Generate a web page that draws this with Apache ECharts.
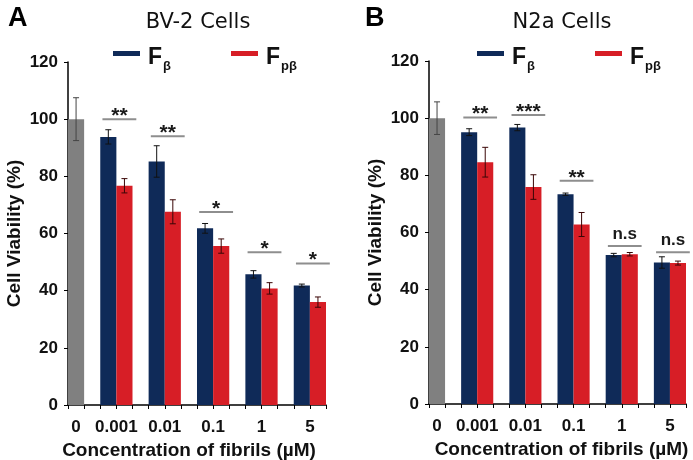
<!DOCTYPE html>
<html><head><meta charset="utf-8">
<script src="https://cdn.jsdelivr.net/npm/echarts@6/dist/echarts.min.js"></script>
<style>html,body{margin:0;padding:0;background:#fff}#c{width:693px;height:460px}</style>
</head><body><div id="c"></div>
<script>
// ---- data ----
const categories = ['0', '0.001', '0.01', '0.1', '1', '5'];
const seriesNames = ['Fβ', 'Fpβ'];
const yMax = 120, yStep = 20;

const bv2Control = 100, bv2ControlErr = 7.5;
const bv2Fb = [93.8, 85.2, 61.8, 45.7, 41.8];
const bv2FbErr = [2.5, 5.5, 1.7, 1.3, 0.5];
const bv2Fpb = [76.7, 67.6, 55.6, 40.8, 36.0];
const bv2FpbErr = [2.5, 4.2, 2.5, 2.0, 1.8];
const bv2Sig = ['**', '**', '*', '*', '*'];
const bv2SigY = [100, 94, 67.5, 53.4, 49.5];

const n2aControl = 100, n2aControlErr = 5.7;
const n2aFb = [95.1, 96.7, 73.4, 52.1, 49.5];
const n2aFbErr = [1.2, 1.1, 0.4, 0.6, 2.0];
const n2aFpb = [84.6, 75.9, 62.8, 52.4, 49.3];
const n2aFpbErr = [5.2, 4.3, 4.2, 0.6, 0.7];
const n2aSig = ['**', '***', '**', 'n.s', 'n.s'];
const n2aSigY = [100.2, 101.1, 78.1, 55.3, 53.1];

// ---- styling ----
const FONT = '"Liberation Sans", Arial, sans-serif';
const C_GRAY = '#808080', C_BLUE = '#0f2a58', C_RED = '#d71e26';
const ERR_COLORS = ['#444444', '#111111', '#3a0606'];

// slot layout: control slot, gap, then [blue, red, gap] per concentration
const nGroups = categories.length - 1;
const nSlots = 2 + 3 * nGroups - 1;
const blueSlot = i => 2 + 3 * i;
const redSlot = i => 3 + 3 * i;
const slotNames = Array.from({length: nSlots}, (_, i) => 's' + i);
// half-slot label axis (boundaryGap false)
const labelSlots = Array(2 * nSlots + 1).fill('');
labelSlots[1] = categories[0];
for (let i = 0; i < nGroups; i++) labelSlots[2 * redSlot(i)] = categories[i + 1];

function renderErr(params, api) {
  const x = api.value(0), lo = api.value(1), hi = api.value(2);
  const pHi = api.coord([x, hi]), pLo = api.coord([x, lo]);
  const cw = 3;
  const st = {stroke: ERR_COLORS[api.value(3)], lineWidth: 1};
  return {type: 'group', children: [
    {type: 'line', shape: {x1: pHi[0], y1: pHi[1], x2: pLo[0], y2: pLo[1]}, style: st},
    {type: 'line', shape: {x1: pHi[0] - cw, y1: pHi[1], x2: pHi[0] + cw, y2: pHi[1]}, style: st},
    {type: 'line', shape: {x1: pLo[0] - cw, y1: pLo[1], x2: pLo[0] + cw, y2: pLo[1]}, style: st}
  ]};
}

function makeSigRenderer(labels) {
  return function (params, api) {
    const slot = api.value(0), y = api.value(1), idx = api.value(2);
    const p = api.coord([slot, y]);
    const w = api.size([1, 0])[0];
    const cx = p[0] + w * 0.5 + 3;
    const half = w * 1.05;
    const txt = labels[idx];
    const isStar = txt.indexOf('*') >= 0;
    const ty = isStar ? p[1] - 3 : p[1] - 12;
    return {type: 'group', children: [
      {type: 'line', shape: {x1: cx - half, y1: p[1], x2: cx + half, y2: p[1]},
        style: {stroke: '#8e8e8e', lineWidth: 2}},
      {type: 'text', x: cx, y: ty,
        style: {text: txt, fill: '#1a1a1a',
          font: 'bold ' + (isStar ? 21 : 17) + 'px ' + FONT,
          align: 'center', verticalAlign: 'middle',
          textAlign: 'center', textVerticalAlign: 'middle'}}
    ]};
  };
}

function panel(g, control, controlErr, fb, fbErr, fpb, fpbErr, sig, sigY) {
  const xs = g * 2, yi = g;
  const gray = Array(nSlots).fill(null);
  const blue = Array(nSlots).fill(null);
  const red = Array(nSlots).fill(null);
  gray[0] = control;
  const err = [[0, control - controlErr, control + controlErr, 0]];
  const sigData = [];
  for (let i = 0; i < nGroups; i++) {
    blue[blueSlot(i)] = fb[i];
    red[redSlot(i)] = fpb[i];
    err.push([blueSlot(i), fb[i] - fbErr[i], fb[i] + fbErr[i], 1]);
    err.push([redSlot(i), fpb[i] - fpbErr[i], fpb[i] + fpbErr[i], 2]);
    sigData.push([blueSlot(i), sigY[i], i]);
  }
  const base = {type: 'bar', xAxisIndex: xs, yAxisIndex: yi, barWidth: '100%', barGap: '-100%',
    barCategoryGap: '0%'};
  return [
    Object.assign({}, base, {name: 'control' + g, data: gray, itemStyle: {color: C_GRAY}}),
    Object.assign({}, base, {name: seriesNames[0], data: blue, itemStyle: {color: C_BLUE}}),
    Object.assign({}, base, {name: seriesNames[1], data: red, itemStyle: {color: C_RED}}),
    {type: 'custom', xAxisIndex: xs, yAxisIndex: yi, renderItem: renderErr, data: err,
      encode: {x: 0, y: [1, 2]}, z: 5, silent: true},
    {type: 'custom', xAxisIndex: xs, yAxisIndex: yi, renderItem: makeSigRenderer(sig), data: sigData,
      encode: {x: 0, y: 1}, z: 5, silent: true}
  ];
}

const grids = [
  {left: 68, top: 62, width: 258, height: 343, outerBoundsMode: 'none', containLabel: false},
  {left: 429, top: 61, width: 257, height: 343, outerBoundsMode: 'none', containLabel: false}
];

const xAxes = [], yAxes = [];
grids.forEach((gr, g) => {
  xAxes.push({
    type: 'category', gridIndex: g, data: slotNames, position: 'bottom',
    axisLine: {lineStyle: {color: '#000', width: 1.5}},
    axisTick: {show: true, interval: 0, length: 4, lineStyle: {color: '#000', width: 1}},
    axisLabel: {show: false},
    name: 'Concentration of fibrils (µM)', nameLocation: 'middle', nameGap: 36,
    nameTextStyle: {fontFamily: FONT, fontWeight: 'bold', fontSize: 19, color: '#111',
      padding: g === 0 ? [0, 16, 0, 0] : [0, 0, 0, 8]}
  });
  xAxes.push({
    type: 'category', gridIndex: g, data: labelSlots, boundaryGap: false, position: 'bottom',
    axisLine: {show: false}, axisTick: {show: false},
    axisLabel: {interval: 0, margin: 14, fontFamily: FONT, fontWeight: 'bold', fontSize: 17, color: '#111'}
  });
  yAxes.push({
    type: 'value', gridIndex: g, min: 0, max: yMax, interval: yStep,
    axisLine: {show: true, lineStyle: {color: '#000', width: 1.5}},
    axisTick: {show: true, length: 4, lineStyle: {color: '#000'}},
    splitLine: {show: false},
    axisLabel: {margin: 10, fontFamily: FONT, fontWeight: 'bold', fontSize: 17, color: '#111'},
    name: 'Cell Viability (%)', nameLocation: 'middle', nameGap: 44,
    nameTextStyle: {fontFamily: FONT, fontWeight: 'bold', fontSize: 19, color: '#111'}
  });
});

const legendRich = {
  f: {fontFamily: FONT, fontWeight: 'bold', fontSize: 23, color: '#111', padding: [8, 0, 0, 3], verticalAlign: 'middle'},
  s: {fontFamily: FONT, fontWeight: 'bold', fontSize: 13, color: '#111', padding: [26, 0, 0, 1], verticalAlign: 'middle'}
};
function legendFmt(name) { return '{f|F}{s|' + name.slice(1) + '}'; }
function mkLegend(name, left, top) {
  return {data: [name], left: left, top: top, padding: 0, itemWidth: 27, itemHeight: 5, icon: 'rect',
    formatter: legendFmt, textStyle: {rich: legendRich}, selectedMode: false};
}

const chart = echarts.init(document.getElementById('c'), null, {renderer: 'canvas'});
chart.setOption({
  animation: false,
  backgroundColor: '#fff',
  title: [
    {text: 'A', left: 3, top: 0, textStyle: {fontFamily: FONT, fontWeight: 'bold', fontSize: 27, color: '#000'}},
    {text: 'BV-2 Cells', left: 193, top: 7, textAlign: 'center',
      textStyle: {fontFamily: '"DejaVu Sans", sans-serif', fontWeight: 'normal', fontSize: 21, color: '#111'}},
    {text: 'B', left: 360, top: 0, textStyle: {fontFamily: FONT, fontWeight: 'bold', fontSize: 27, color: '#000'}},
    {text: 'N2a Cells', left: 557, top: 7, textAlign: 'center',
      textStyle: {fontFamily: '"DejaVu Sans", sans-serif', fontWeight: 'normal', fontSize: 21, color: '#111'}}
  ],
  legend: [
    mkLegend(seriesNames[0], 113, 46),
    mkLegend(seriesNames[1], 231, 46),
    mkLegend(seriesNames[0], 477, 46),
    mkLegend(seriesNames[1], 595, 46)
  ],
  grid: grids,
  xAxis: xAxes,
  yAxis: yAxes,
  series: [].concat(
    panel(0, bv2Control, bv2ControlErr, bv2Fb, bv2FbErr, bv2Fpb, bv2FpbErr, bv2Sig, bv2SigY),
    panel(1, n2aControl, n2aControlErr, n2aFb, n2aFbErr, n2aFpb, n2aFpbErr, n2aSig, n2aSigY)
  )
});
</script></body></html>
